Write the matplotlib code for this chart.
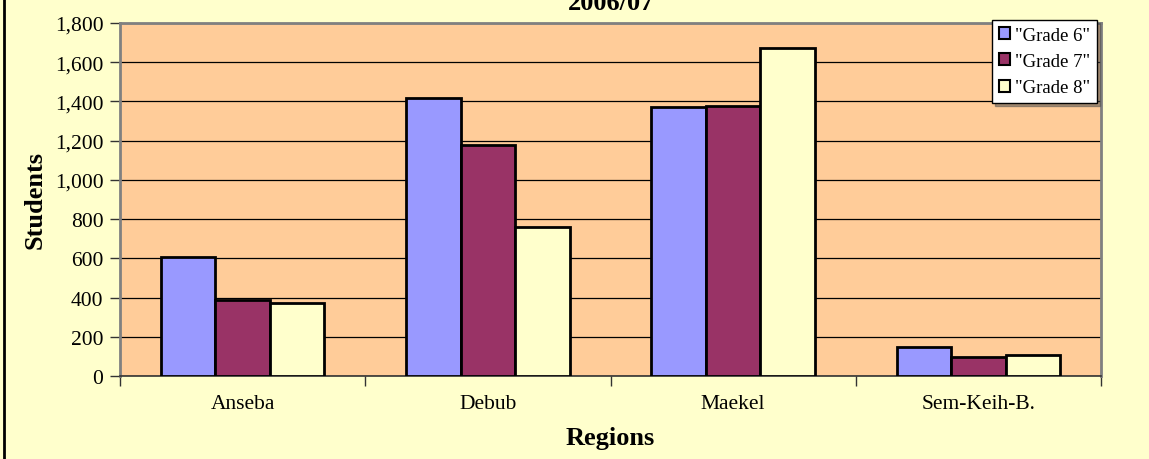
import matplotlib
matplotlib.use("Agg")
import matplotlib.pyplot as plt
import numpy as np
from matplotlib.lines import Line2D
from matplotlib.ticker import FuncFormatter, FixedLocator

regions = ["Anseba", "Debub", "Maekel", "Sem-Keih-B."]
series_names = ['"Grade 6"', '"Grade 7"', '"Grade 8"']
grade6 = [605, 1420, 1370, 150]
grade7 = [390, 1180, 1375, 95]
grade8 = [370, 760, 1675, 105]
colors = ["#9999FF", "#993366", "#FFFFCC"]
yticks = [0, 200, 400, 600, 800, 1000, 1200, 1400, 1600, 1800]

plt.rcParams["font.family"] = ["Liberation Serif", "DejaVu Serif"]

W, H = 1149, 460
fig = plt.figure(figsize=(W / 100, H / 100), dpi=100)
fig.patch.set_facecolor("#FFFFCC")

ax = fig.add_axes([120 / W, 1 - 377 / H, 981 / W, 353 / H])
ax.set_facecolor("#FFCC99")

x = np.arange(len(regions))
bw = 0.222
for i, (vals, name) in enumerate(zip([grade6, grade7, grade8], series_names)):
    ax.bar(x + (i - 1) * bw, vals, width=bw, color=colors[i], edgecolor="black",
           linewidth=2, label=name, zorder=3)

ax.set_xlim(-0.5, len(regions) - 0.5)
ax.set_ylim(0, 1800)
ax.set_yticks(yticks)
ax.yaxis.set_major_formatter(FuncFormatter(lambda v, p: f"{int(v):,}"))
ax.grid(axis="y", color="black", linewidth=0.9, zorder=1)
ax.tick_params(axis="y", direction="out", length=7, width=1, color="#333333",
               labelsize=15.5, pad=5)

ax.set_xticks(x)
ax.set_xticklabels(regions)
ax.tick_params(axis="x", which="major", length=0, labelsize=15.5, pad=13)
ax.xaxis.set_minor_locator(FixedLocator(np.arange(-0.5, len(regions), 1.0)))
ax.tick_params(axis="x", which="minor", direction="out", length=7, width=1, color="#333333")

for s in ["top", "right", "left"]:
    ax.spines[s].set_color("#808080")
    ax.spines[s].set_linewidth(2)
ax.spines["bottom"].set_color("#333333")
ax.spines["bottom"].set_linewidth(1.2)

ax.set_ylabel("Students", fontsize=19, fontweight="bold")
ax.yaxis.set_label_coords(-(120 - 47) / 981, 0.5)
ax.set_xlabel("Regions", fontsize=19, fontweight="bold")
ax.xaxis.set_label_coords(0.5, -(445 - 377) / 353)
ax.xaxis.label.set_va("baseline")

leg = ax.legend(loc="upper left", bbox_to_anchor=((992 - 120) / 981, 1 + 3 / 353),
                fontsize=13.5, frameon=True, fancybox=False, shadow=True,
                handlelength=0.6, handleheight=0.6, handletextpad=0.3,
                borderpad=0.35, labelspacing=0.5, borderaxespad=0)
leg.get_frame().set_edgecolor("black")
leg.get_frame().set_linewidth(1)
leg.get_frame().set_facecolor("white")
for h in leg.legend_handles:
    h.set_linewidth(1.5)

fig.text(611 / W, 1 - 10 / H, "2006/07", ha="center", va="baseline",
         fontsize=19, fontweight="bold")

fig.add_artist(Line2D([3.5 / W, 3.5 / W], [0, 1], color="black", linewidth=2,
                      transform=fig.transFigure))

fig.savefig("out.png", dpi=100, facecolor=fig.get_facecolor())
